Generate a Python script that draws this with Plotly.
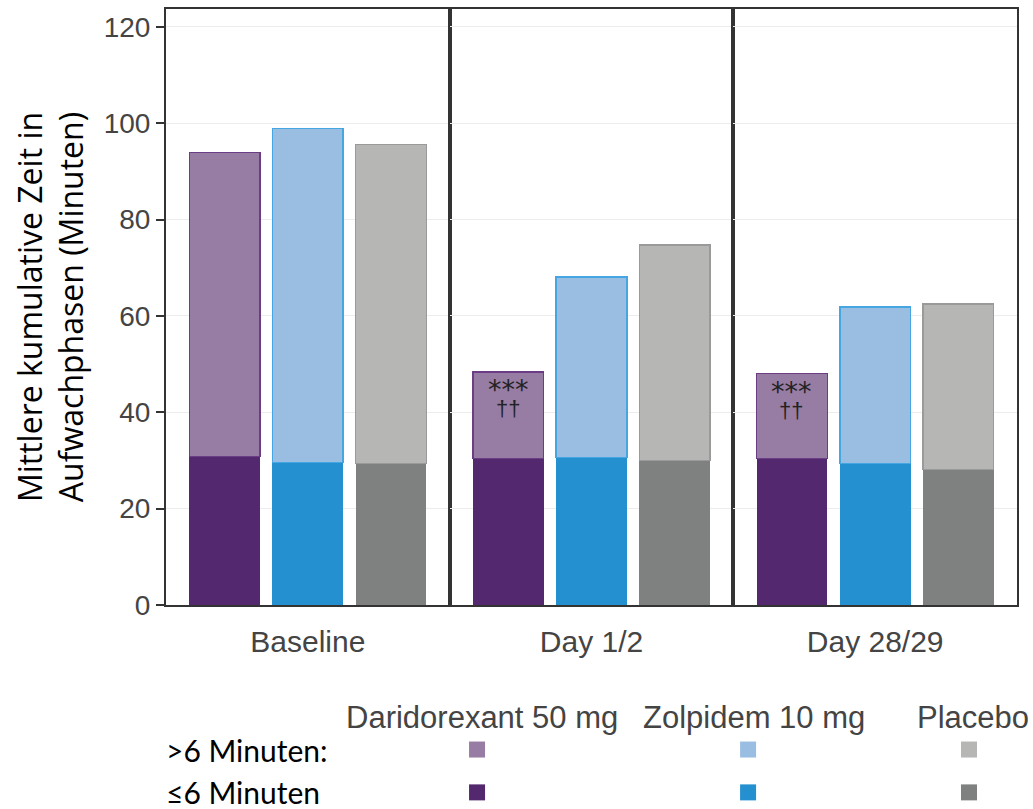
import plotly.graph_objects as go
from plotly.subplots import make_subplots

# Study periods and treatment arms
periods = ["Baseline", "Day 1/2", "Day 28/29"]
treatments = ["Daridorexant 50 mg", "Zolpidem 10 mg", "Placebo"]

# Mean cumulative wake time (minutes) in bouts of <=6 min and >6 min
le6_minutes = {
    "Baseline": [30.8, 29.6, 29.4],
    "Day 1/2": [30.4, 30.6, 30.0],
    "Day 28/29": [30.4, 29.4, 28.1],
}
gt6_minutes = {
    "Baseline": [63.1, 69.3, 66.2],
    "Day 1/2": [18.0, 37.5, 44.7],
    "Day 28/29": [17.6, 32.5, 34.4],
}
# Significance markers on the daridorexant bar
significance = {"Day 1/2": ("***", "††"), "Day 28/29": ("***", "††")}

y_ticks = [0, 20, 40, 60, 80, 100, 120]

dark_colors = ["#54286e", "#2490d0", "#7f8180"]
light_colors = ["#977ca3", "#9abee2", "#b6b6b5"]
outline_colors = ["#6a3d84", "#45a6e2", "#9a9a9a"]

TICK_FONT = "Liberation Sans, Arial, sans-serif"
TITLE_FONT = "Open Sans, Noto Sans, sans-serif"
LABEL_FONT = "Lato, Open Sans, sans-serif"

fig = make_subplots(rows=1, cols=3, shared_yaxes=True, horizontal_spacing=0)

for i, period in enumerate(periods):
    col = i + 1
    fig.add_trace(
        go.Bar(
            x=treatments,
            y=le6_minutes[period],
            marker=dict(color=dark_colors, line=dict(width=0)),
            width=0.85,
            showlegend=False,
            hoverinfo="x+y",
        ),
        row=1, col=col,
    )
    fig.add_trace(
        go.Bar(
            x=treatments,
            y=gt6_minutes[period],
            marker=dict(color=light_colors, line=dict(color=outline_colors, width=1.5)),
            width=0.85,
            showlegend=False,
            hoverinfo="x+y",
        ),
        row=1, col=col,
    )

    xname = "x" if col == 1 else f"x{col}"
    fig.update_xaxes(
        row=1, col=col,
        type="category",
        categoryorder="array",
        categoryarray=treatments,
        range=[-0.705, 2.705],
        showticklabels=False,
        ticks="",
        showgrid=False,
        showline=True, mirror=True, linecolor="#333333", linewidth=2,
        zeroline=False,
        title=dict(text=period, font=dict(family=TICK_FONT, size=30, color="#444444"), standoff=25),
    )

    if period in significance:
        total = le6_minutes[period][0] + gt6_minutes[period][0]
        stars, daggers = significance[period]
        # one annotation, small base size so the two lines sit close together
        fig.add_annotation(
            x=treatments[0], y=total, xref=xname, yref="y",
            text=(f'<span style="font-size:27px;font-family:DejaVu Sans">{stars}</span><br>'
                  f'<span style="font-size:22px">{daggers}</span>'),
            showarrow=False, yanchor="top", yshift=0,
            font=dict(family=TICK_FONT, size=13, color="#222222"),
        )

fig.update_yaxes(
    range=[0, 123.7],
    tickvals=y_ticks,
    showgrid=True, gridcolor="#ececec", gridwidth=1,
    showline=True, mirror=True, linecolor="#333333", linewidth=2,
    zeroline=False,
)
fig.update_yaxes(
    row=1, col=1,
    ticks="outside", ticklen=8, tickwidth=2, tickcolor="#333333",
    tickfont=dict(family=TICK_FONT, size=28, color="#444444"),
    title=dict(
        text="Mittlere kumulative Zeit in<br>Aufwachphasen (Minuten)",
        font=dict(family=TITLE_FONT, size=32, color="#000000"),
        standoff=10,
    ),
)
for col in (2, 3):
    fig.update_yaxes(row=1, col=col, ticks="", showticklabels=False)

# Custom legend below the panels
header_x = [0.371, 0.691, 0.948]
square_x = [0.3655, 0.684, 0.9436]
header_y, row1_y, row2_y = -0.189, -0.2425, -0.3144

for name, hx in zip(treatments, header_x):
    fig.add_annotation(
        x=hx, y=header_y, xref="paper", yref="paper", text=name, showarrow=False,
        xanchor="center", yanchor="middle",
        font=dict(family=TICK_FONT, size=31, color="#444444"),
    )

for label, ly in ((">6 Minuten:", row1_y), ("≤6 Minuten", row2_y)):
    fig.add_annotation(
        x=-0.002, y=ly, xref="paper", yref="paper", text=label, showarrow=False,
        xanchor="left", yanchor="middle",
        font=dict(family=LABEL_FONT, size=30, color="#000000"),
    )

for sx, lc, dc in zip(square_x, light_colors, dark_colors):
    for ly, color in ((row1_y, lc), (row2_y, dc)):
        fig.add_shape(
            type="rect", xref="paper", yref="paper",
            xsizemode="pixel", ysizemode="pixel",
            xanchor=sx, yanchor=ly,
            x0=-8, x1=8, y0=-8, y1=8,
            fillcolor=color, line=dict(width=0),
        )

fig.update_layout(
    width=1033, height=809,
    margin=dict(l=166, r=16, t=7, b=204),
    barmode="stack",
    plot_bgcolor="white", paper_bgcolor="white",
    showlegend=False,
)

fig.write_html("out.html")
